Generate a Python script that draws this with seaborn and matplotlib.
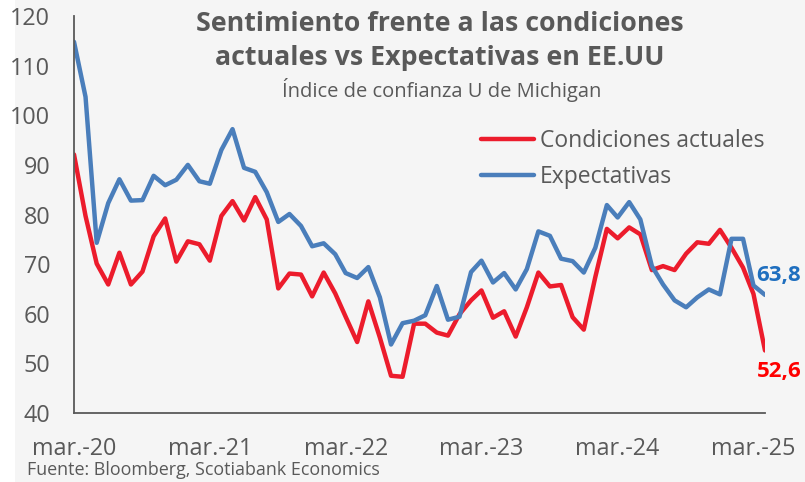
import pandas as pd
import seaborn as sns
import matplotlib.pyplot as plt
from matplotlib.patches import Rectangle

# monthly data, Excel-style dates (first point plotted at "mar.-20")
dates = pd.date_range("2020-03-01", periods=62, freq="MS")

condiciones = [
    92.1, 79.7, 70.1, 65.9, 72.3, 65.9, 68.5, 75.6, 79.2, 70.5, 74.6,
    74.0, 70.7, 79.7, 82.7, 78.8, 83.5, 79.0, 65.1, 68.1, 67.9, 63.5, 68.3,
    64.1, 59.4, 54.3, 62.5, 55.2, 47.5, 47.3, 58.0, 58.0, 56.2, 55.6, 59.9,
    62.7, 64.7, 59.2, 60.5, 55.4, 61.3, 68.3, 65.5, 65.8, 59.3, 56.8, 67.4,
    77.1, 75.2, 77.4, 76.0, 68.8, 69.6, 68.8, 72.1, 74.4, 74.1, 76.9, 73.3,
    69.3, 64.0, 52.6,
]
expectativas = [
    114.8, 103.7, 74.3, 82.3, 87.1, 82.8, 82.9, 87.8, 85.9, 87.0, 90.0,
    86.7, 86.2, 93.0, 97.2, 89.4, 88.6, 84.5, 78.5, 80.1, 77.7, 73.6, 74.2,
    72.0, 68.2, 67.2, 69.4, 63.3, 53.8, 58.1, 58.6, 59.7, 65.6, 58.8, 59.4,
    68.4, 70.7, 66.3, 68.2, 64.9, 69.0, 76.6, 75.7, 71.1, 70.6, 68.3, 73.3,
    81.9, 79.4, 82.5, 79.0, 69.6, 65.9, 62.7, 61.3, 63.3, 64.9, 63.9, 75.1,
    75.1, 65.7, 63.8,
]
tick_labels = ["mar.-20", "mar.-21", "mar.-22", "mar.-23", "mar.-24", "mar.-25"]

RED = "#EC1C2C"
BLUE = "#4A7EBB"
GREY = "#595959"

sns.set_style("white")
plt.rcParams["font.family"] = ["Open Sans", "DejaVu Sans"]

fig = plt.figure(figsize=(8.05, 4.82), dpi=100)
fig.patch.set_facecolor("white")
fig.patches.append(Rectangle((15 / 805, 0), 1, 1, transform=fig.transFigure,
                             facecolor="#F5F5F5", edgecolor="none", zorder=-10))
ax = fig.add_axes([74 / 805, 1 - 413 / 482, (765 - 74) / 805, (413 - 16) / 482])
ax.set_facecolor("none")

sns.lineplot(x=dates, y=condiciones, ax=ax, color=RED, linewidth=3.2, label="Condiciones actuales")
sns.lineplot(x=dates, y=expectativas, ax=ax, color=BLUE, linewidth=3.2, label="Expectativas")

ax.set_xlim(dates[0], dates[-1])
ax.set_ylim(40, 120)
ax.set_yticks(range(40, 121, 10))
ax.set_xticks(dates[::12])
ax.set_xticklabels(tick_labels)
ax.tick_params(axis="both", length=0, labelsize=16.8, colors=GREY)
ax.tick_params(axis="y", pad=17)
ax.tick_params(axis="x", pad=17)
ax.set_xlabel("")
ax.set_ylabel("")
for s in ["top", "right"]:
    ax.spines[s].set_visible(False)
for s in ["left", "bottom"]:
    ax.spines[s].set_color(GREY)
    ax.spines[s].set_linewidth(1.3)

leg = ax.legend(loc="upper left", bbox_to_anchor=(472 / 805, 1 - 120 / 482),
                bbox_transform=fig.transFigure, frameon=False, fontsize=16.5,
                handlelength=2.3, handletextpad=0.25, labelspacing=0.5,
                borderaxespad=0)
for t in leg.get_texts():
    t.set_color(GREY)

ax.annotate("63,8", xy=(dates[-1], expectativas[-1]), xytext=(-9, 19),
            textcoords="offset pixels", color="#1F6FBF", fontsize=16,
            fontweight="bold", ha="left", va="center")
ax.annotate("52,6", xy=(dates[-1], condiciones[-1]), xytext=(-8, -21),
            textcoords="offset pixels", color="#FF0000", fontsize=16,
            fontweight="bold", ha="left", va="center")

fig.text(440 / 805, 1 - 24 / 482, "Sentimiento frente a las condiciones", ha="center",
         va="center", fontsize=19.3, fontweight="bold", color=GREY)
fig.text(440 / 805, 1 - 58 / 482, "actuales vs Expectativas en EE.UU", ha="center",
         va="center", fontsize=19.3, fontweight="bold", color=GREY)
fig.text(442 / 805, 1 - 90 / 482, "Índice de confianza U de Michigan", ha="center",
         va="center", fontsize=14.5, color=GREY)
fig.text(27 / 805, 1 - 470 / 482, "Fuente: Bloomberg, Scotiabank Economics", ha="left",
         va="center", fontsize=12.9, color=GREY)

plt.savefig("out.png", dpi=100)
plt.close()
